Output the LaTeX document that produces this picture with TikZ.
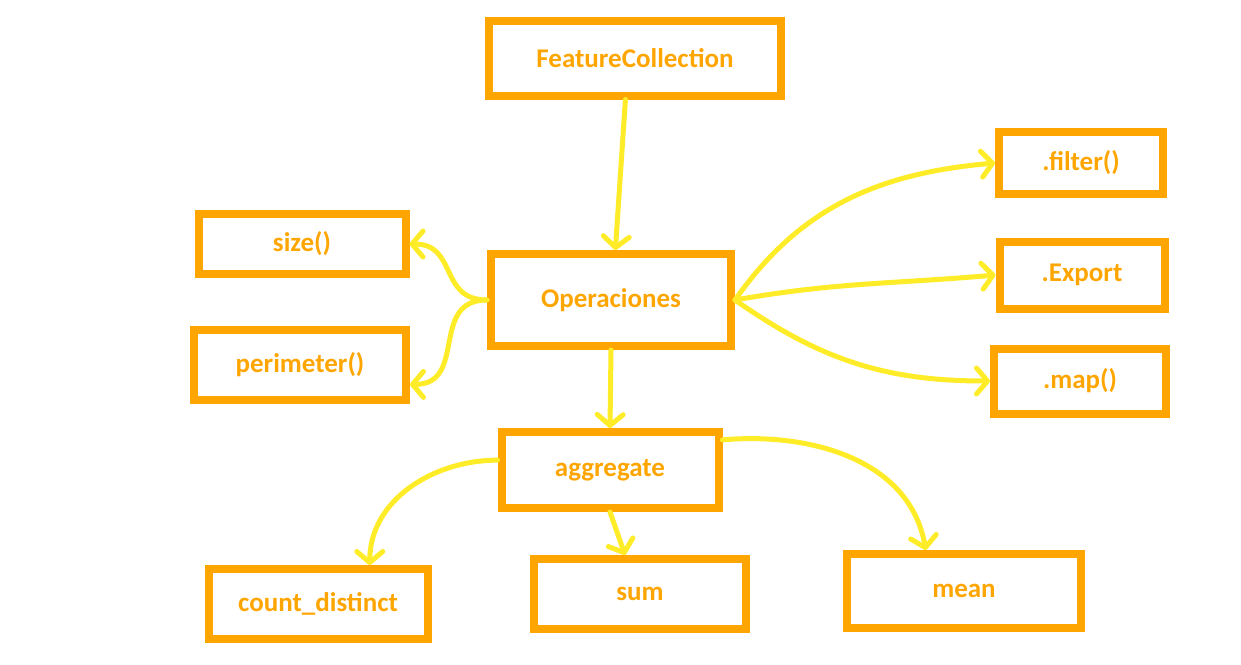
\documentclass[tikz,border=0pt]{standalone}
\usepackage{fontspec}
\setmainfont{Carlito}
\usetikzlibrary{arrows.meta}
\definecolor{boxorange}{RGB}{255,165,0}
\definecolor{linkyellow}{RGB}{255,236,40}
\tikzset{
	box/.style={draw=boxorange, line width=8pt, text=boxorange, inner sep=0pt,
		font=\bfseries\fontsize{27}{30}\selectfont},
	link/.style={draw=linkyellow, line width=5pt, line cap=round,
		-{Straight Barb[length=11pt, width=26pt, round]}},
}

\begin{document}
\begin{tikzpicture}[x=1pt, y=1pt]
				\useasboundingbox (0,0) rectangle (1241,-664);
				\node [box, minimum width=292, minimum height=75] (feat) at (635,-58) {FeatureCollection};
				\node [box, minimum width=240, minimum height=92] (ops) at (611,-300) {Operaciones};
				\node [box, minimum width=207, minimum height=60] (size) at (302,-244) {size()};
				\node [box, minimum width=212, minimum height=70] (perim) at (300,-365) {perimeter()};
				\node [box, minimum width=164, minimum height=62] (filter) at (1081,-163) {.filter()};
				\node [box, minimum width=165, minimum height=67] (export) at (1082,-275) {.Export};
				\node [box, minimum width=172, minimum height=65] (map) at (1080,-381) {.map()};
				\node [box, minimum width=217, minimum height=76] (agg) at (610,-470) {aggregate};
				\node [box, minimum width=219, minimum height=70] (count) at (318,-604) {count\_distinct};
				\node [box, minimum width=212, minimum height=70] (sum) at (640,-594) {sum};
				\node [box, minimum width=234, minimum height=74] (mean) at (964,-591) {mean};
				\draw [link] (feat.-103) -- (ops.85);
				\draw [link] (ops.west) to[out=180, in=0, looseness=1.3] (size.east);
				\draw [link] (ops.west) to[out=180, in=0, looseness=1.3] (perim.-10);
				\draw [link] (ops.east) to[out=55, in=185] (filter.west);
				\draw [link] (ops.east) to[out=10, in=185] (export.west);
				\draw [link] (ops.east) to[out=-35, in=180] (map.west);
				\draw [link] (ops.south) -- (agg.north);
				\draw [link] (agg.175) to[out=180, in=90] (count.37);
				\draw [link] (agg.south) -- (sum.111);
				\draw [link] (agg.15) to[out=5, in=100] (mean.133);
			\end{tikzpicture}
\end{document}
